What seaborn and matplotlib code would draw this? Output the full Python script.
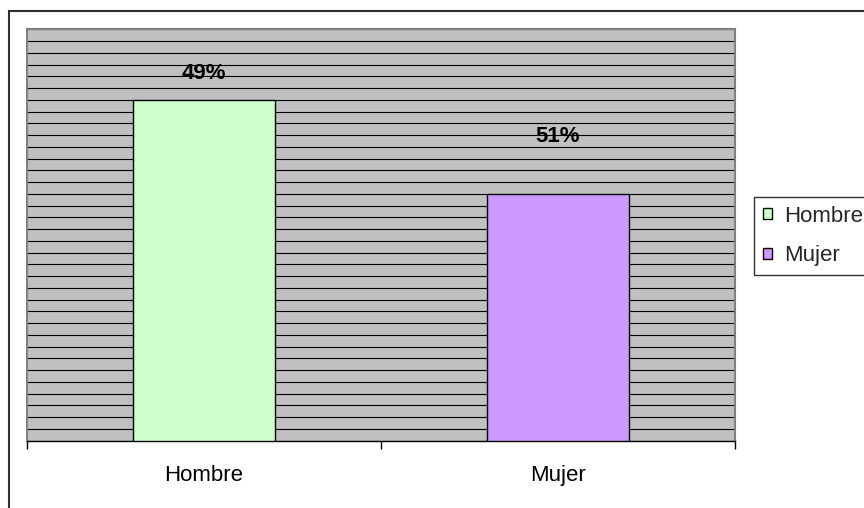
import matplotlib
matplotlib.use("Agg")
import matplotlib.pyplot as plt
from matplotlib.patches import Rectangle, Patch
import seaborn as sns
import pandas as pd

# Data
categories = ["Hombre", "Mujer"]
values = [29, 21]
value_labels = ["49%", "51%"]
bar_colors = ["#CCFFCC", "#CC99FF"]

# Layout of the value labels (data units on the y axis)
label_y = [31.2, 25.9]
y_max = 35

sns.set_theme(style="white")
plt.rcParams["font.family"] = ["Liberation Sans", "DejaVu Sans"]

W, H, DPI = 864, 508, 100
fig = plt.figure(figsize=(W / DPI, H / DPI), dpi=DPI)
fig.patch.set_facecolor("white")

# Plot area placed in pixel terms
left, right, top, bottom = 27, 735, 29.3, 440.7
ax = fig.add_axes([left / W, 1 - bottom / H, (right - left) / W, (bottom - top) / H])

df = pd.DataFrame({"Sexo": categories, "Valor": values})
sns.barplot(data=df, x="Sexo", y="Valor", hue="Sexo", palette=bar_colors,
            dodge=False, width=0.4, saturation=1, edgecolor="black",
            linewidth=1.0, legend=False, ax=ax, zorder=3)

ax.set_facecolor("#C0C0C0")
ax.set_xlim(-0.5, 1.5)
ax.set_ylim(0, y_max)

# Horizontal gridlines every unit
ax.set_yticks(range(0, y_max + 1))
ax.set_yticklabels([])
ax.tick_params(axis="y", length=0)
ax.yaxis.grid(True, color="black", linewidth=0.8)
ax.xaxis.grid(False)
ax.set_axisbelow(True)

# Category ticks at the boundaries, labels at the centers
ax.set_xticks([-0.5, 0.5, 1.5])
ax.set_xticklabels([])
ax.tick_params(axis="x", which="major", direction="out", length=6, width=1,
               color="black", bottom=True)
ax.set_xticks([0, 1], minor=True)
ax.set_xticklabels(categories, minor=True)
ax.tick_params(axis="x", which="minor", length=0, pad=17.5, labelsize=16,
               labelcolor="black")

ax.set_xlabel("")
ax.set_ylabel("")

for side in ("left", "top", "right"):
    ax.spines[side].set_visible(True)
    ax.spines[side].set_color("#808080")
    ax.spines[side].set_linewidth(1.5)
ax.spines["bottom"].set_color("black")
ax.spines["bottom"].set_linewidth(1.0)

# Value labels
for i, (txt, yy) in enumerate(zip(value_labels, label_y)):
    ax.text(i, yy, txt, ha="center", va="center", fontsize=16,
            fontweight="bold", color="black", zorder=5)

# Legend
handles = [Patch(facecolor=c, edgecolor="black", linewidth=1.0) for c in bar_colors]
leg = fig.legend(handles, categories, loc="upper left",
                 bbox_to_anchor=(754 / W, 1 - 196.7 / H),
                 fontsize=16, frameon=True, fancybox=False,
                 handlelength=0.4, handleheight=0.4, handletextpad=0.55,
                 labelspacing=0.85, borderpad=0.4, borderaxespad=0)
leg.get_frame().set_edgecolor("black")
leg.get_frame().set_linewidth(1.0)
leg.get_frame().set_facecolor("white")

# Outer chart border
fig.add_artist(Rectangle((9 / W, -0.1), 1.2, 1 - 11 / H + 0.1,
                         transform=fig.transFigure, fill=False,
                         edgecolor="#303030", linewidth=1.5))

fig.savefig("out.png", dpi=DPI)
